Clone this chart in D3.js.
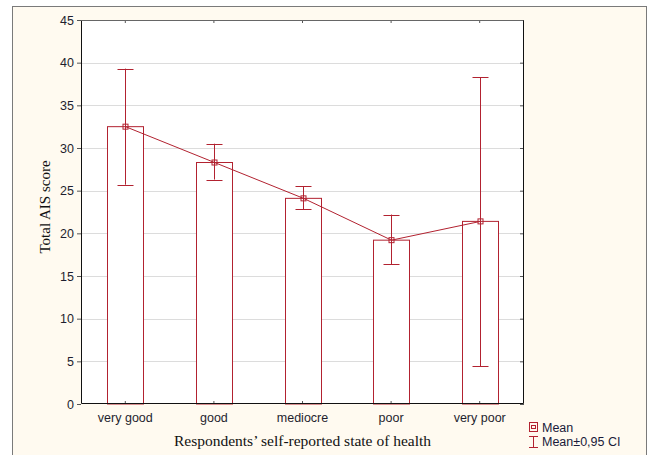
<!DOCTYPE html>
<html><head><meta charset="utf-8">
<script src="https://cdn.jsdelivr.net/npm/d3@7"></script>
<style>body{margin:0;background:#fff;} svg{display:block;}</style>
</head><body>
<script>
const categories = ["very good","good","mediocre","poor","very poor"];
const means = [32.5, 28.3, 24.1, 19.2, 21.4];
const ciLow = [25.7, 26.3, 22.8, 16.4, 4.4];
const ciHigh = [39.3, 30.5, 25.5, 22.2, 38.3];
const yTicks = [0,5,10,15,20,25,30,35,40,45];

const W=650,H=455;
const svg=d3.select("body").append("svg").attr("width",W).attr("height",H);
svg.append("rect").attr("x",12.5).attr("y",6.5).attr("width",634).attr("height",460)
  .attr("fill","#fffaf0").attr("stroke","#7a7a7a");

const L=81,T=20,R=524,B=404;
const x=d3.scaleBand().domain(categories).range([L,R]);
const y=d3.scaleLinear().domain([0,45]).range([B,T]);
const red="#b22230";

svg.append("rect").attr("x",L).attr("y",T).attr("width",R-L).attr("height",B-T).attr("fill","#fff");
// gridlines
svg.append("g").selectAll("line").data(yTicks.filter(d=>d>0&&d<45)).join("line")
  .attr("x1",L).attr("x2",R).attr("y1",d=>Math.round(y(d))+0.5).attr("y2",d=>Math.round(y(d))+0.5)
  .attr("stroke","#dcdcdc");

// bars
const bw=36;
svg.append("g").selectAll("rect").data(categories).join("rect")
  .attr("x",(d)=>Math.round(x(d)+x.bandwidth()/2-bw/2)+0.5)
  .attr("y",(d,i)=>y(means[i]))
  .attr("width",bw).attr("height",(d,i)=>B-y(means[i]))
  .attr("fill","#fff").attr("stroke",red).attr("stroke-width",1);

// axes
const yAxis=d3.axisLeft(y).tickValues(yTicks).tickSize(4).tickPadding(3);
const gy=svg.append("g").attr("transform",`translate(${L},0)`).call(yAxis);
gy.select(".domain").remove();
gy.selectAll("text").attr("font-family","Liberation Sans, Arial, sans-serif").attr("font-size",12.5).attr("fill","#1e1e2e");
gy.selectAll("line").attr("stroke","#555");
const yAxisR=d3.axisLeft(y).tickValues(yTicks).tickSize(4).tickFormat("");
const gyr=svg.append("g").attr("transform",`translate(${R},0)`).call(yAxisR);
gyr.select(".domain").remove(); gyr.selectAll("line").attr("stroke","#555");

const xAxis=d3.axisBottom(x).tickSize(-3).tickPadding(9);
const gx=svg.append("g").attr("transform",`translate(0,${B})`).call(xAxis);
gx.select(".domain").remove();
gx.selectAll("line").attr("stroke","#555");
gx.selectAll("text").attr("font-family","Liberation Sans, Arial, sans-serif").attr("font-size",12.5).attr("fill","#1e1e2e");
const xAxisT=d3.axisTop(x).tickSize(-3).tickFormat("");
const gxt=svg.append("g").attr("transform",`translate(0,${T})`).call(xAxisT);
gxt.select(".domain").remove(); gxt.selectAll("line").attr("stroke","#555");

// frame of plot
svg.append("path").attr("d",`M${L+0.5},${T+0.5}H${R-0.5}`).attr("stroke","#666").attr("fill","none");
svg.append("path").attr("d",`M${L+0.5},${T+0.5}V${B-0.5}H${R-0.5}V${T+0.5}`).attr("stroke","#111").attr("fill","none");

// error bars
const cx=(d)=>Math.round(x(d)+x.bandwidth()/2)+0.5;
const cw=8;
const eb=svg.append("g").attr("stroke",red).attr("fill","none");
categories.forEach((c,i)=>{
  eb.append("line").attr("x1",cx(c)).attr("x2",cx(c)).attr("y1",y(ciLow[i])).attr("y2",y(ciHigh[i]));
  eb.append("line").attr("x1",cx(c)-cw).attr("x2",cx(c)+cw).attr("y1",Math.round(y(ciLow[i]))+0.5).attr("y2",Math.round(y(ciLow[i]))+0.5);
  eb.append("line").attr("x1",cx(c)-cw).attr("x2",cx(c)+cw).attr("y1",Math.round(y(ciHigh[i]))+0.5).attr("y2",Math.round(y(ciHigh[i]))+0.5);
});
// mean line
svg.append("path").datum(categories).attr("fill","none").attr("stroke",red).attr("stroke-width",1)
  .attr("d",d3.line().x(d=>cx(d)).y((d,i)=>y(means[i])));
svg.append("g").selectAll("rect").data(categories).join("rect")
  .attr("x",d=>cx(d)-2.5).attr("y",(d,i)=>y(means[i])-2.5).attr("width",5).attr("height",5)
  .attr("fill","none").attr("stroke",red);

// axis titles
svg.append("text").attr("x",(L+R)/2).attr("y",446).attr("text-anchor","middle")
  .attr("font-family","Liberation Serif, Times New Roman, serif").attr("font-size",15.5).attr("fill","#111")
  .text("Respondents’ self-reported state of health");
svg.append("text").attr("transform","translate(50,207) rotate(-90)").attr("text-anchor","middle")
  .attr("font-family","Liberation Serif, Times New Roman, serif").attr("font-size",15).attr("fill","#111")
  .text("Total AIS score");

// legend
const lg=svg.append("g");
lg.append("rect").attr("x",529.5).attr("y",422.5).attr("width",8).attr("height",9).attr("fill","none").attr("stroke",red);
lg.append("rect").attr("x",531.5).attr("y",425.5).attr("width",4).attr("height",3).attr("fill","none").attr("stroke",red);
lg.append("line").attr("x1",533.5).attr("x2",533.5).attr("y1",436).attr("y2",448).attr("stroke",red);
lg.append("line").attr("x1",529).attr("x2",538).attr("y1",436.5).attr("y2",436.5).attr("stroke",red);
lg.append("line").attr("x1",529).attr("x2",538).attr("y1",447.5).attr("y2",447.5).attr("stroke",red);
lg.append("text").attr("x",542).attr("y",432).attr("font-family","Liberation Sans, Arial, sans-serif").attr("font-size",12.5).attr("fill","#1a1a3a").text("Mean");
lg.append("text").attr("x",542).attr("y",446).attr("font-family","Liberation Sans, Arial, sans-serif").attr("font-size",12.5).attr("fill","#1a1a3a").text("Mean±0,95 CI");
</script>
</body></html>
